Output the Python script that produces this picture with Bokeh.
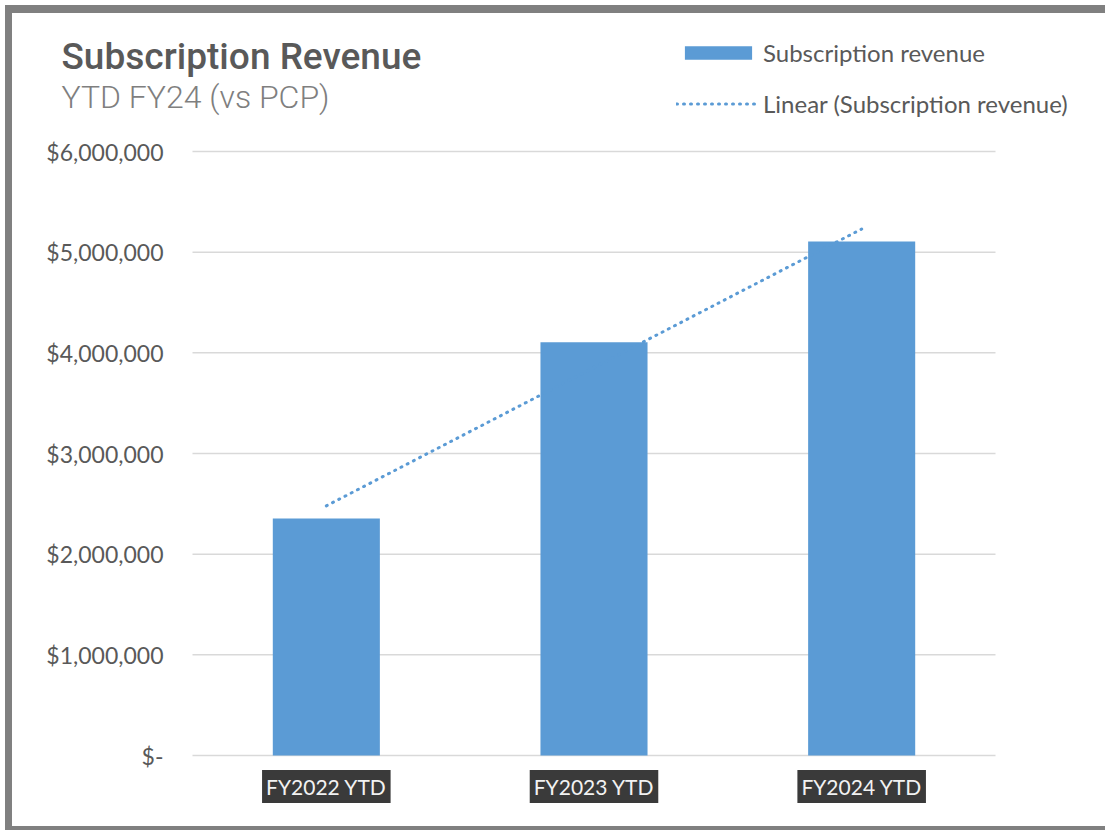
import numpy as np
from bokeh.plotting import figure
from bokeh.models import Label, Legend, LegendItem, Range1d
from bokeh.core.properties import value
from bokeh.embed import file_html
from bokeh.resources import INLINE

# ---- data ----
categories = ["FY2022 YTD", "FY2023 YTD", "FY2024 YTD"]
revenue = [2355000, 4105000, 5105000]
y_ticks = [0, 1000000, 2000000, 3000000, 4000000, 5000000, 6000000]
y_tick_labels = ["$-", "$1,000,000", "$2,000,000", "$3,000,000",
                 "$4,000,000", "$5,000,000", "$6,000,000"]
title_text = "Subscription Revenue"
subtitle_text = "YTD FY24 (vs PCP)"
series_name = "Subscription revenue"
trend_name = "Linear (Subscription revenue)"

# ---- styles / layout ----
BAR = "#5B9BD5"
TXT = "#595959"
GRID = "#d9d9d9"
LABEL_FONT = "Lato"

W, H = 1100, 825                 # canvas size
PL, PT, PW, PH = 180, 138, 803, 604   # plot area inside canvas (px)
Y_MAX = 6000000
N = len(categories)

ux = N / PW          # data units per px (x)
uy = Y_MAX / PH      # data units per px (y)

def cx(px):
    return (px - PL) * ux

def cy(py):
    return (PT + PH - py) * uy

p = figure(width=W, height=H, output_backend="svg", toolbar_location=None,
           title=None,
           x_range=Range1d(cx(0), cx(W)), y_range=Range1d(cy(H), cy(0)),
           min_border=0, min_border_left=0, min_border_right=0,
           min_border_top=0, min_border_bottom=0)
p.styles = {"border-left": "7px solid #808080",
            "border-top": "8px solid #808080",
            "border-bottom": "4px solid #808080",
            "margin-left": "5px", "margin-top": "5px"}
p.outline_line_color = None
p.background_fill_color = "white"
p.border_fill_color = "white"
p.xaxis.visible = False
p.yaxis.visible = False
p.xgrid.visible = False
p.ygrid.visible = False

# gridlines at the y ticks across the plot area
p.segment(x0=[0] * len(y_ticks), x1=[N] * len(y_ticks), y0=y_ticks, y1=y_ticks,
          line_color=GRID, line_width=1.5)

# y tick labels
p.text(x=[cx(151)] * len(y_ticks), y=y_ticks, text=y_tick_labels,
       text_align="right", text_baseline="middle",
       text_font=value(LABEL_FONT), text_font_size="23px", text_color=TXT)

# bars
xs = np.arange(N) + 0.5
bars = p.vbar(x=xs, top=revenue, width=0.4, fill_color=BAR, line_color=None)

# linear trendline (least squares, like Excel's "Linear" trendline)
idx = np.arange(1, N + 1)
k, b = np.polyfit(idx, revenue, 1)
trend = p.line(x=[xs[0], xs[-1]], y=[k * idx[0] + b, k * idx[-1] + b],
               line_color=BAR, line_width=3, line_dash="1 6", line_cap="round")

# category labels with dark boxes
for xc, cat in zip(xs, categories):
    p.add_layout(Label(x=xc, y=cy(773), text=cat, text_align="center",
                       text_baseline="middle", text_font=LABEL_FONT,
                       text_font_size="21px", text_color="#f2f2f2",
                       background_fill_color="#3a3a3a", padding=4))

# title & subtitle
p.add_layout(Label(x=cx(49), y=cy(43), text=title_text,
                   text_font="Roboto Medium",
                   text_font_size="37px", text_color=TXT,
                   text_baseline="alphabetic"))
p.add_layout(Label(x=cx(49), y=cy(83), text=subtitle_text,
                   text_font="Roboto Light",
                   text_font_size="32px", text_color="#7f7f7f",
                   text_baseline="alphabetic"))

legend = Legend(items=[LegendItem(label=series_name, renderers=[bars]),
                       LegendItem(label=trend_name, renderers=[trend])],
                location=(664, H - 105),
                background_fill_alpha=0, border_line_color=None,
                padding=0, margin=0, spacing=22,
                glyph_width=84, glyph_height=17, label_standoff=3,
                label_height=24,
                label_text_font=LABEL_FONT, label_text_font_size="24px",
                label_text_color=TXT)
p.add_layout(legend)

open("out.html", "w").write(file_html(p, INLINE))
